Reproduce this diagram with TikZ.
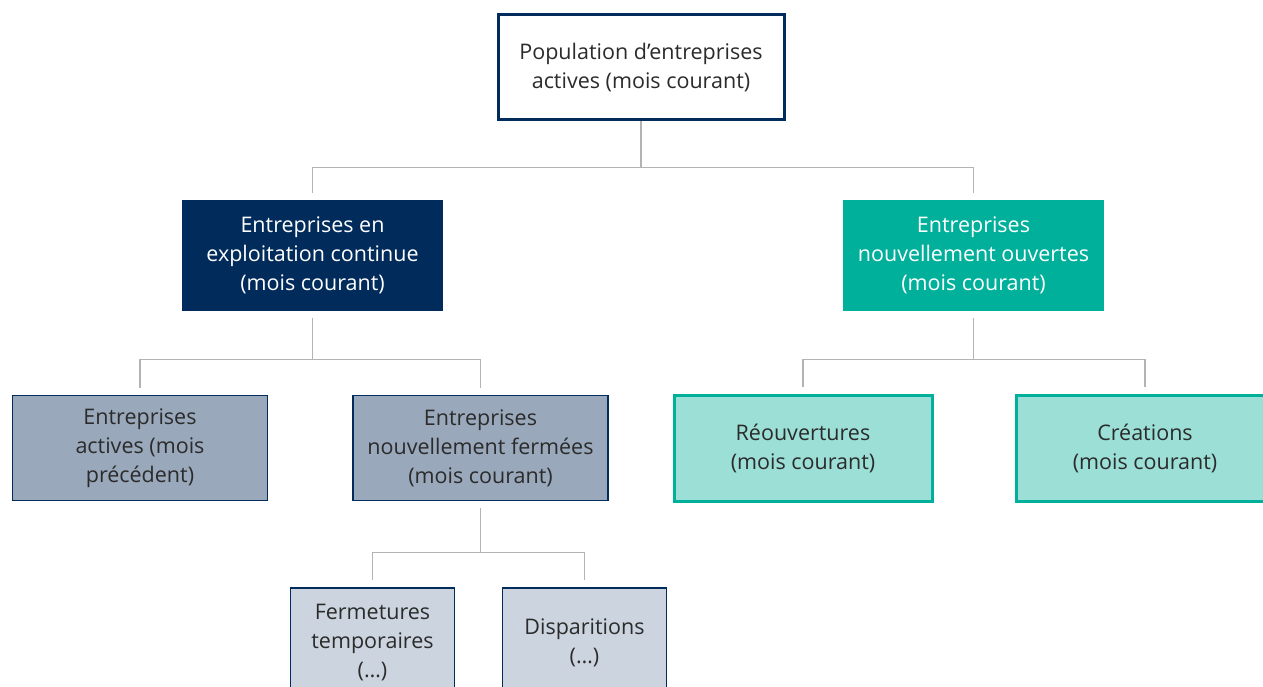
\documentclass[tikz,border=0pt]{standalone}
\usepackage{fontspec}
\setmainfont{Open Sans}
\usepackage{xcolor}
\usepackage{tikz}
\usetikzlibrary{positioning}
\definecolor{basenavy}{HTML}{002B5A}
\definecolor{baseteal}{HTML}{00B09A}
\definecolor{lightteal}{HTML}{9CDFD6}
\definecolor{slategray}{HTML}{99A8BB}
\definecolor{palegray}{HTML}{CCD5DF}
\definecolor{textgray}{HTML}{2B2B2B}
\definecolor{linegray}{HTML}{B3B3B3}

\begin{document}
\begin{tikzpicture}[x=1pt, y=-1pt,
        box/.style={rectangle,
        align=center,
        inner sep=0pt,
        text=textgray,
        font=\fontsize{21.5}{29}\selectfont},
        rootbox/.style={box, draw=basenavy, line width=3pt, fill=white,
        minimum width=286pt, minimum height=105pt},
        midnavy/.style={box, fill=basenavy, text=white,
        minimum width=261pt, minimum height=111pt},
        midteal/.style={box, fill=baseteal, text=white,
        minimum width=261pt, minimum height=111pt},
        lowgray/.style={box, draw=basenavy, line width=1.5pt, fill=slategray,
        minimum width=255pt, minimum height=105pt},
        lowteal/.style={box, draw=baseteal, line width=3pt, fill=lightteal,
        minimum width=258pt, minimum height=106pt},
        leafgray/.style={box, draw=basenavy, line width=1.5pt, fill=palegray,
        minimum width=164pt, minimum height=110pt},
        conn/.style={draw=linegray, line width=1.3pt}]
        \useasboundingbox (0,0) rectangle (1263,687);
        \clip (0,0) rectangle (1263,687);
        % top level
        \node[rootbox] (pop) at (641,67.5) {Population d’entreprises\\actives (mois courant)};
        % second level
        \node[midnavy] (cont) at (312.5,255.5) {Entreprises en\\exploitation continue\\(mois courant)};
        \node[midteal] (ouv) at (973.5,255.5) {Entreprises\\nouvellement ouvertes\\(mois courant)};
        % third level
        \node[lowgray] (prec) at (140,448) {Entreprises\\actives (mois\\précédent)};
        \node[lowgray] (ferm) at (480.5,448) {Entreprises\\nouvellement fermées\\(mois courant)};
        \node[lowteal] (reouv) at (803,448) {Réouvertures\\(mois courant)};
        \node[lowteal] (creat) at (1145,448) {Créations\\(mois courant)};
        % fourth level
        \node[leafgray] (temp) at (372.5,643) {Fermetures\\temporaires\\(…)};
        \node[leafgray] (disp) at (584.5,643) {Disparitions\\(…)};
        % connectors
        \draw[conn, shorten >=7pt] (pop.south) -- ++(0,46) -| (cont.north);
        \draw[conn, shorten >=7pt] (pop.south) -- ++(0,46) -| (ouv.north);
        \draw[conn, shorten <=7pt, shorten >=7pt] (cont.south) -- ++(0,48) -| (prec.north);
        \draw[conn, shorten <=7pt, shorten >=7pt] (cont.south) -- ++(0,48) -| (ferm.north);
        \draw[conn, shorten <=7pt, shorten >=7pt] (ouv.south) -- ++(0,48) -| (reouv.north);
        \draw[conn, shorten <=7pt, shorten >=7pt] (ouv.south) -- ++(0,48) -| (creat.north);
        \draw[conn, shorten <=7pt, shorten >=7pt] (ferm.south) -- ++(0,51) -| (temp.north);
        \draw[conn, shorten <=7pt, shorten >=7pt] (ferm.south) -- ++(0,51) -| (disp.north);
    \end{tikzpicture}
\end{document}
